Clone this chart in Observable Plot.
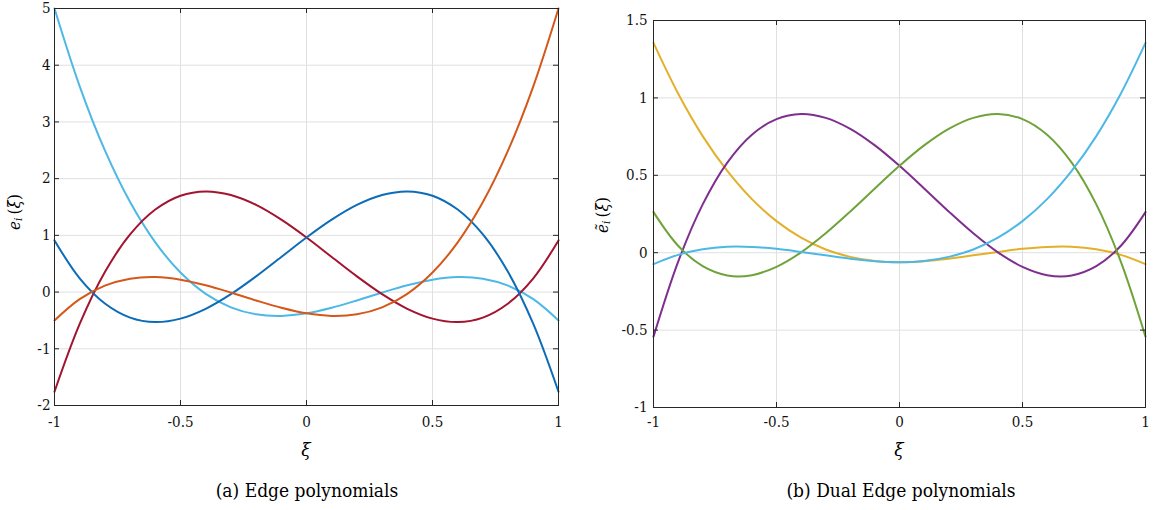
<!DOCTYPE html>
<html><head><meta charset="utf-8">
<script src="https://cdn.jsdelivr.net/npm/d3@7"></script>
<script src="https://cdn.jsdelivr.net/npm/@observablehq/plot@0.6"></script>
<style>
body{margin:0;background:#fff;}
#wrap{position:relative;width:1153px;height:510px;font-family:"DejaVu Serif Condensed","DejaVu Serif",serif;color:#000;overflow:hidden;}
.panel{position:absolute;top:0;}
.cap{position:absolute;width:400px;text-align:center;font-size:19px;line-height:24px;top:478px;}
.xl{position:absolute;width:40px;text-align:center;font-size:19px;line-height:20px;top:439px;font-style:italic;}
.yl{position:absolute;font-size:17px;line-height:20px;transform:translate(-50%,-50%) rotate(-90deg);white-space:nowrap;}
.yl sub{font-size:70%;vertical-align:-0.25em;}
</style></head><body><div id="wrap"></div>
<script>
// sample abscissae
const xi = [-1,-0.9,-0.8,-0.7,-0.6,-0.5,-0.4,-0.3,-0.2,-0.1,0,0.1,0.2,0.3,0.4,0.5,0.6,0.7,0.8,0.9,1];

// (a) Edge polynomials
const edge1 = [5.000,3.628,2.497,1.587,0.876,0.344,-0.031,-0.269,-0.392,-0.420,-0.375,-0.277,-0.148,-0.008,0.121,0.219,0.264,0.236,0.113,-0.125,-0.500];
const edge2 = [-1.757,-0.562,0.353,1.016,1.455,1.699,1.775,1.711,1.536,1.276,0.962,0.619,0.277,-0.037,-0.295,-0.468,-0.529,-0.450,-0.202,0.242,0.910];
const edge3 = [0.910,0.242,-0.202,-0.450,-0.529,-0.468,-0.295,-0.037,0.277,0.619,0.962,1.276,1.536,1.711,1.775,1.699,1.455,1.016,0.353,-0.562,-1.757];
const edge4 = [-0.500,-0.125,0.113,0.236,0.264,0.219,0.121,-0.008,-0.148,-0.277,-0.375,-0.420,-0.392,-0.269,-0.031,0.344,0.876,1.587,2.497,3.628,5.000];

// (b) Dual edge polynomials
const dual1 = [1.355,1.028,0.753,0.528,0.346,0.204,0.097,0.021,-0.027,-0.053,-0.061,-0.055,-0.039,-0.017,0.005,0.025,0.037,0.038,0.022,-0.014,-0.074];
const dual2 = [-0.542,-0.059,0.312,0.582,0.762,0.863,0.896,0.871,0.800,0.693,0.561,0.415,0.266,0.125,0.002,-0.091,-0.145,-0.147,-0.087,0.045,0.262];
const dual3 = [0.262,0.045,-0.087,-0.147,-0.145,-0.091,0.002,0.125,0.266,0.415,0.561,0.693,0.800,0.871,0.896,0.863,0.762,0.582,0.312,-0.059,-0.542];
const dual4 = [-0.074,-0.014,0.022,0.038,0.037,0.025,0.005,-0.017,-0.039,-0.055,-0.061,-0.053,-0.027,0.021,0.097,0.204,0.346,0.528,0.753,1.028,1.355];

// ticks
const xTicks = [-1,-0.5,0,0.5,1];
const yTicksA = [-2,-1,0,1,2,3,4,5];
const yTicksB = [-1,-0.5,0,0.5,1,1.5];

const namesA = ["e1","e2","e3","e4"];
const colorsA = ["#4DB8E6","#A2142F","#0C6CB8","#D4581A"];
const namesB = ["d1","d2","d3","d4"];
const colorsB = ["#E3B02A","#7E2F8E","#6FA33A","#4DB8E6"];

const FONT = '"DejaVu Serif Condensed","DejaVu Serif",serif';

function panel({names, colors, series, yDomain, yTicks, width, mL, mR, mT, mB, xPad, yPad}) {
  const height = 460;
  const pw = width - mL - mR, ph = height - mT - mB;
  const rows = series.flatMap((vals, k) => xi.map((x, i) => ({x, y: vals[i], name: names[k]})));
  const axisColor = "#262626";
  return Plot.plot({
    width, height, marginLeft: mL, marginRight: mR, marginTop: mT, marginBottom: mB,
    style: {fontFamily: FONT, fontSize: "15px", background: "transparent", overflow: "visible", color: "#111"},
    x: {domain: [-1, 1]},
    y: {domain: yDomain},
    color: {domain: names, range: colors},
    marks: [
      Plot.gridX(xTicks, {stroke: "#e0e0e0", strokeOpacity: 1}),
      Plot.gridY(yTicks, {stroke: "#e0e0e0", strokeOpacity: 1}),
      Plot.line(rows, {x: "x", y: "y", z: "name", stroke: "name", strokeWidth: 2, curve: "catmull-rom"}),
      Plot.frame({stroke: axisColor, strokeWidth: 1}),
      Plot.tickY(yTicks, {y: d => d, insetRight: pw - 5, stroke: axisColor}),
      Plot.tickY(yTicks, {y: d => d, insetLeft: pw - 5, stroke: axisColor}),
      Plot.tickX(xTicks, {x: d => d, insetTop: ph - 5, stroke: axisColor}),
      Plot.tickX(xTicks, {x: d => d, insetBottom: ph - 5, stroke: axisColor}),
      Plot.axisX(xTicks, {tickSize: 0, tickPadding: xPad, tickFormat: d => String(d), label: null}),
      Plot.axisY(yTicks, {tickSize: 0, tickPadding: yPad, tickFormat: d => String(d), label: null})
    ]
  });
}

const wrap = document.getElementById("wrap");

const a = panel({names: namesA, colors: colorsA, series: [edge1, edge2, edge3, edge4],
  yDomain: [-2, 5], yTicks: yTicksA, width: 576, mL: 54, mR: 18, mT: 8, mB: 55, xPad: 11, yPad: 4});
a.classList.add("panel"); a.style.left = "0px";
wrap.appendChild(a);

const b = panel({names: namesB, colors: colorsB, series: [dual1, dual2, dual3, dual4],
  yDomain: [-1, 1.5], yTicks: yTicksB, width: 577, mL: 77, mR: 8, mT: 20, mB: 53, xPad: 9, yPad: 6});
b.classList.add("panel"); b.style.left = "576px";
wrap.appendChild(b);

function addLabel(cls, html, css) {
  const d = document.createElement("div");
  d.className = cls;
  d.innerHTML = html;
  Object.assign(d.style, css);
  wrap.appendChild(d);
}
addLabel("yl", '<i>e</i><sub><i>i</i></sub>&thinsp;(<i>ξ</i>)', {left: "16px", top: "212px"});
addLabel("yl", '<i>ẽ</i><sub><i>i</i></sub>&thinsp;(<i>ξ</i>)', {left: "604px", top: "215px"});
addLabel("xl", 'ξ', {left: (306 - 20) + "px"});
addLabel("xl", 'ξ', {left: (899 - 20) + "px"});
addLabel("cap", '(a) Edge polynomials', {left: (307 - 200) + "px"});
addLabel("cap", '(b) Dual Edge polynomials', {left: (901 - 200) + "px"});
</script>
</body></html>
